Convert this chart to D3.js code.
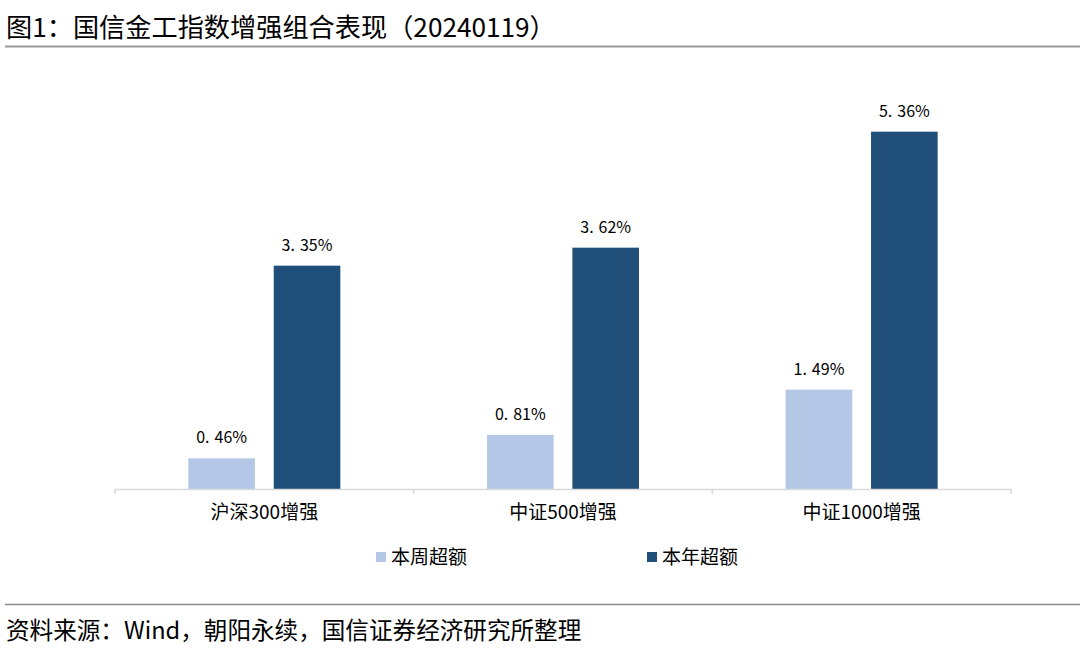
<!DOCTYPE html>
<html><head><meta charset="utf-8">
<script src="https://cdn.jsdelivr.net/npm/d3@7"></script>
<style>body{margin:0;background:#fff}text{font-family:"Noto Sans CJK SC","Noto Sans",sans-serif}</style>
</head><body>
<svg id="c" width="1080" height="657"></svg>
<script>
const categories = ["沪深300增强", "中证500增强", "中证1000增强"];
const seriesNames = ["本周超额", "本年超额"];
const weekly = [0.46, 0.81, 1.49];
const yearly = [3.35, 3.62, 5.36];
const colors = ["#B4C7E7", "#1F4E79"];

const svg = d3.select("#c");
const W = 1080, H = 657;
svg.append("rect").attr("width", W).attr("height", H).attr("fill", "#fff");

// title
svg.append("text").attr("x", 6).attr("y", 37).attr("font-size", 26.2).attr("fill", "#000")
  .text("图1：国信金工指数增强组合表现（20240119）");
svg.append("line").attr("x1", 5).attr("x2", W).attr("y1", 46.5).attr("y2", 46.5)
  .attr("stroke", "#9a9a9a").attr("stroke-width", 2);

const x0 = d3.scaleBand().domain(categories).range([115, 1011]);
const x1 = d3.scaleBand().domain(seriesNames).range([0, 152]).paddingInner(0.22);
const y = d3.scaleLinear().domain([0, 6]).range([489, 89]);

const data = categories.map((c, i) => ({cat: c, vals: [weekly[i], yearly[i]]}));

const g = svg.append("g");
const groups = g.selectAll("g.grp").data(data).join("g")
  .attr("transform", d => `translate(${x0(d.cat) + (x0.bandwidth() - 152) / 2},0)`);

groups.selectAll("rect").data(d => d.vals.map((v, j) => ({v, s: seriesNames[j], j})))
  .join("rect")
  .attr("x", d => x1(d.s)).attr("width", x1.bandwidth())
  .attr("y", d => y(d.v)).attr("height", d => y(0) - y(d.v))
  .attr("fill", d => colors[d.j]);

const lbl = groups.selectAll("text.lbl").data(d => d.vals.map((v, j) => ({v, s: seriesNames[j]})))
  .join("text").attr("class", "lbl")
  .attr("x", d => x1(d.s) + x1.bandwidth() / 2).attr("y", d => y(d.v) - 15)
  .attr("text-anchor", "middle").attr("font-size", 16).attr("fill", "#000")
  .attr("font-family", "'Liberation Sans', Arial, sans-serif");
lbl.append("tspan").text(d => d3.format(".2f")(d.v).split(".")[0] + ".");
lbl.append("tspan").attr("dx", 5).text(d => d3.format(".2f")(d.v).split(".")[1] + "%");

// axis
const ax = svg.append("g").attr("transform", `translate(0,${y(0)})`)
  .call(d3.axisBottom(x0).tickSize(0).tickPadding(17));
ax.select(".domain").attr("stroke", "#d9d9d9").attr("stroke-width", 1.5);
ax.selectAll(".tick text").attr("font-size", 19).attr("fill", "#000")
  .attr("font-family", "'Noto Sans CJK SC', sans-serif");
const bounds = [x0.range()[0]].concat(categories.map(c => x0(c) + x0.bandwidth()));
ax.selectAll("line.sep").data(bounds).join("line").attr("class", "sep")
  .attr("x1", d => d).attr("x2", d => d).attr("y1", 0).attr("y2", 5)
  .attr("stroke", "#d9d9d9").attr("stroke-width", 1.5);

// legend
const legX = [376, 647];
const leg = svg.selectAll("g.leg").data(seriesNames).join("g")
  .attr("transform", (d, i) => `translate(${legX[i]},552)`);
leg.append("rect").attr("width", 10).attr("height", 10).attr("fill", (d, i) => colors[i]);
leg.append("text").attr("x", 15).attr("y", 12).attr("font-size", 19).attr("fill", "#000").text(d => d);

// footer
svg.append("line").attr("x1", 5).attr("x2", W).attr("y1", 604.5).attr("y2", 604.5)
  .attr("stroke", "#8a8a8a").attr("stroke-width", 1.5);
svg.append("text").attr("x", 6).attr("y", 639).attr("font-size", 23.6).attr("fill", "#000")
  .text("资料来源：Wind，朝阳永续，国信证券经济研究所整理");
</script>
</body></html>
